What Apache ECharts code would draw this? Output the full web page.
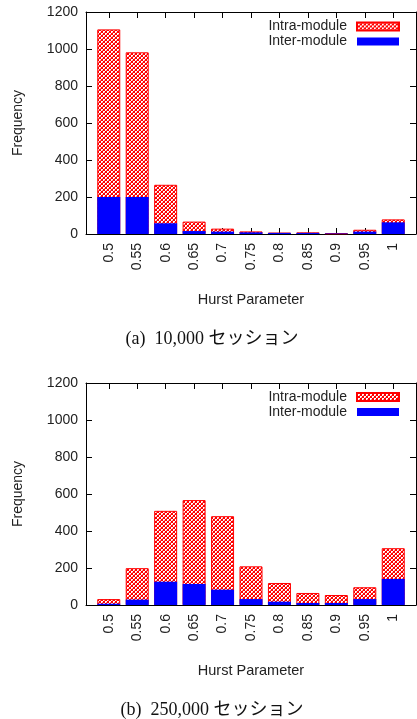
<!DOCTYPE html>
<html>
<head>
<meta charset="utf-8">
<script src="https://cdn.jsdelivr.net/npm/echarts@6/dist/echarts.min.js"></script>
<style>
html,body{margin:0;padding:0;background:#fff;}
#c{width:417px;height:719px;}
</style>
</head>
<body>
<div id="c"></div>
<script>
// ---- data ----
const categories = ['0.5','0.55','0.6','0.65','0.7','0.75','0.8','0.85','0.9','0.95','1'];
// (a) 10,000 sessions
const interA = [200, 200, 58, 16, 13, 9, 6, 6, 3, 13, 63];
const intraA = [906, 782, 208, 51, 16, 5, 2, 3, 1, 10, 16];
// (b) 250,000 sessions
const interB = [7, 29, 126, 114, 83, 32, 18, 11, 11, 32, 141];
const intraB = [25, 170, 383, 453, 397, 177, 101, 54, 43, 64, 166];
const yMin = 0, yMax = 1200, yStep = 200;
const captionA = '(a)  10,000 セッション';
const captionB = '(b)  250,000 セッション';
const xTitle = 'Hurst Parameter';
const yTitle = 'Frequency';
const nameIntra = 'Intra-module';
const nameInter = 'Inter-module';

// ---- crosshatch pattern ----
function makePattern() {
  const c = document.createElement('canvas');
  c.width = 4; c.height = 4;
  const g = c.getContext('2d');
  g.fillStyle = '#ff0000';
  g.fillRect(0, 0, 4, 4);
  g.fillStyle = '#ffffff';
  g.fillRect(1, 1, 2, 1);
  g.fillRect(1, 2, 1, 1);
  g.fillRect(3, 3, 1, 1);
  g.fillRect(0, 3, 1, 1);
  g.fillRect(3, 0, 1, 1);
  g.fillStyle = '#ff8080';
  g.fillRect(2, 2, 1, 1);
  g.fillRect(0, 0, 1, 1);
  return c;
}
const hatch = { image: makePattern(), repeat: 'repeat' };

const idx = categories.map((_, i) => i);
const font = '"Liberation Sans", Arial, sans-serif';
const txt = '#222';

function grid(top) { return { left: 86, width: 330, top: top, height: 222, containLabel: false }; }

function xAxes(g) {
  return [{
    type: 'value', gridIndex: g, min: -0.8, max: 10.8, position: 'bottom',
    name: xTitle, nameLocation: 'middle', nameGap: 58,
    nameTextStyle: { fontFamily: font, fontSize: 14.5, color: txt },
    axisLine: { show: true, onZero: false, lineStyle: { color: '#000', width: 1 } },
    axisTick: { show: true, inside: true, length: 6, customValues: idx, lineStyle: { color: '#000' } },
    axisLabel: { customValues: idx, rotate: 90, margin: 9, fontFamily: font, fontSize: 14, color: txt,
      formatter: v => categories[Math.round(v)] },
    splitLine: { show: false }
  }, {
    type: 'value', gridIndex: g, min: -0.8, max: 10.8, position: 'top',
    axisLine: { show: true, onZero: false, lineStyle: { color: '#000', width: 1 } },
    axisTick: { show: true, inside: true, length: 6, customValues: idx, lineStyle: { color: '#000' } },
    axisLabel: { show: false }, splitLine: { show: false }
  }];
}
function yAxes(g) {
  return [{
    type: 'value', gridIndex: g, min: yMin, max: yMax, interval: yStep, position: 'left',
    name: yTitle, nameLocation: 'middle', nameGap: 61,
    nameTextStyle: { fontFamily: font, fontSize: 14, color: txt },
    axisLine: { show: true, onZero: false, lineStyle: { color: '#000', width: 1 } },
    axisTick: { show: true, inside: true, length: 6, lineStyle: { color: '#000' } },
    axisLabel: { margin: 8, fontFamily: font, fontSize: 14, color: txt, formatter: v => String(v) },
    splitLine: { show: false }
  }, {
    type: 'value', gridIndex: g, min: yMin, max: yMax, interval: yStep, position: 'right',
    axisLine: { show: true, onZero: false, lineStyle: { color: '#000', width: 1 } },
    axisTick: { show: true, inside: true, length: 6, lineStyle: { color: '#000' } },
    axisLabel: { show: false }, splitLine: { show: false }
  }];
}
function seriesFor(g, inter, intra) {
  // intra segment sits on top of inter: draw full stacked height behind, inter in front
  return [{
    name: nameIntra, type: 'bar', xAxisIndex: g * 2, yAxisIndex: g * 2,
    barWidth: 23, barGap: '-100%', z: 2,
    data: intra.map((v, i) => [i, v + inter[i]]),
    itemStyle: { color: hatch, borderColor: '#ff0000', borderWidth: 1 }
  }, {
    name: nameInter, type: 'bar', xAxisIndex: g * 2, yAxisIndex: g * 2,
    barWidth: 23, barGap: '-100%', z: 3,
    data: inter.map((v, i) => [i, v]),
    itemStyle: { color: '#0000ff', borderWidth: 0 }
  }];
}
function legend(top) {
  return {
    top: top, right: 17, orient: 'vertical', align: 'right', itemGap: 0, padding: 0,
    itemWidth: 42, itemHeight: 8, icon: 'rect',
    data: [nameIntra, nameInter],
    textStyle: { fontFamily: font, fontSize: 14, color: txt, lineHeight: 15, padding: [0, 5, 0, 0] }
  };
}

const chart = echarts.init(document.getElementById('c'), null, { renderer: 'canvas' });
chart.setOption({
  animation: false,
  backgroundColor: '#fff',
  grid: [grid(12), grid(383)],
  xAxis: [...xAxes(0), ...xAxes(1)],
  yAxis: [...yAxes(0), ...yAxes(1)],
  legend: [legend(19), legend(389.5)],
  series: [...seriesFor(0, interA, intraA), ...seriesFor(1, interB, intraB)],
  graphic: [
    { type: 'text', x: 212, y: 339, style: { text: captionA, textAlign: 'center', textVerticalAlign: 'middle',
      font: '18px "Liberation Serif", "Noto Sans CJK JP", serif', fill: '#111' } },
    { type: 'text', x: 212, y: 710, style: { text: captionB, textAlign: 'center', textVerticalAlign: 'middle',
      font: '18px "Liberation Serif", "Noto Sans CJK JP", serif', fill: '#111' } }
  ]
});
</script>
</body>
</html>
